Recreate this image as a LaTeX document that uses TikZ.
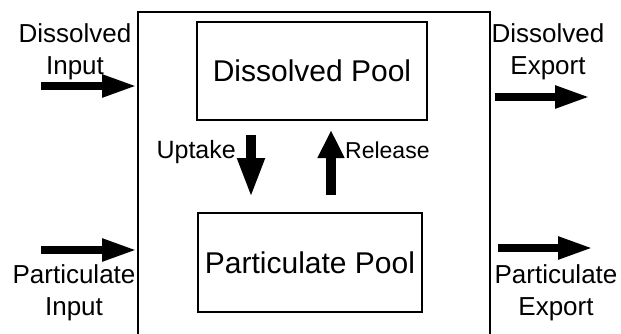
\documentclass[tikz,border=0pt]{standalone}
\usepackage{fontspec}
\setmainfont{Liberation Sans}
\usetikzlibrary{arrows.meta}
\tikzset{
  pool/.style={draw, line width=1.3pt, inner sep=0pt, font=\fontsize{30}{34}\selectfont},
  flowlabel/.style={align=center, inner sep=0pt, anchor=base, font=\fontsize{26}{32}\selectfont},
  fatarrow/.style={line width=8pt, -{Triangle[length=35pt,width=21pt]}},
  midarrow/.style={line width=10pt, -{Triangle[length=#1,width=25pt]}},
}
\begin{document}
\begin{tikzpicture}[x=1pt,y=-1pt]
                \useasboundingbox (0,0) rectangle (621,334);
                % outer system box, open at the bottom
                \coordinate (sysBL) at (138,334);
                \coordinate (sysTL) at (138,12);
                \coordinate (sysTR) at (490,12);
                \coordinate (sysBR) at (490,334);
                \draw[line width=1.5pt] (sysBL) -- (sysTL) -- (sysTR) -- (sysBR);
                % pools
                \node[pool, minimum width=230pt, minimum height=98pt] (dpool) at (312,71) {Dissolved Pool};
                \node[pool, minimum width=224pt, minimum height=99pt] (ppool) at (310,262.5) {Particulate Pool};
                % exchange between the pools
                \coordinate (upA) at (251,135);
                \coordinate (upB) at (251,198);
                \coordinate (relA) at (331,195);
                \coordinate (relB) at (331,130);
                \draw[midarrow=40pt] (upA) -- (upB);
                \draw[midarrow=28pt] (relA) -- (relB);
                \node[anchor=base east, inner sep=0pt, font=\fontsize{25}{30}\selectfont] (uplab) at (236,158) {Uptake};
                \node[anchor=base west, inner sep=0pt, font=\fontsize{23}{30}\selectfont] (rellab) at (345,158) {Release};
                % inputs
                \coordinate (dinA) at (41,86);
                \coordinate (dinB) at (137,86);
                \coordinate (pinA) at (41,250);
                \coordinate (pinB) at (137,250);
                \draw[fatarrow] (dinA) -- (dinB);
                \draw[fatarrow] (pinA) -- (pinB);
                \node[flowlabel] (dinlab) at (75,75) {Dissolved\\Input};
                \node[flowlabel] (pinlab) at (74,315) {Particulate\\Input};
                % exports
                \coordinate (doutA) at (495,97);
                \coordinate (doutB) at (590,97);
                \coordinate (poutA) at (498,248);
                \coordinate (poutB) at (593,248);
                \draw[fatarrow] (doutA) -- (doutB);
                \draw[fatarrow] (poutA) -- (poutB);
                \node[flowlabel] (doutlab) at (548,75) {Dissolved\\Export};
                \node[flowlabel] (poutlab) at (556,315) {Particulate\\Export};
\end{tikzpicture}
\end{document}
